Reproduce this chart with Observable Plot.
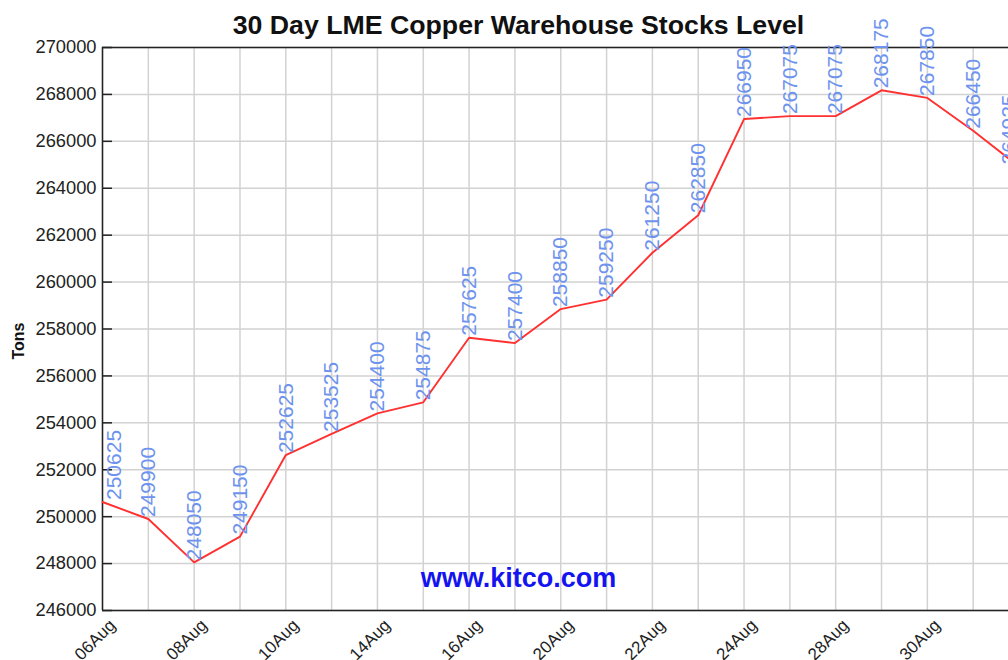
<!DOCTYPE html>
<html>
<head>
<meta charset="utf-8">
<script src="https://cdn.jsdelivr.net/npm/d3@7"></script>
<script src="https://cdn.jsdelivr.net/npm/@observablehq/plot@0.6"></script>
<style>
  html, body { margin: 0; padding: 0; background: #fff; overflow: hidden; }
  #chart svg { overflow: hidden; display: block; }
</style>
</head>
<body>
<div id="chart"></div>
<script>
const days = ["06Aug","07Aug","08Aug","09Aug","10Aug","13Aug","14Aug","15Aug","16Aug","17Aug","20Aug","21Aug","22Aug","23Aug","24Aug","27Aug","28Aug","29Aug","30Aug","31Aug","03Sep"];
const stocks = [250625,249900,248050,249150,252625,253525,254400,254875,257625,257400,258850,259250,261250,262850,266950,267075,267075,268175,267850,266450,264925];
const dayLabels = ["06Aug","08Aug","10Aug","14Aug","16Aug","20Aug","22Aug","24Aug","28Aug","30Aug"];
const yTicks = [246000,248000,250000,252000,254000,256000,258000,260000,262000,264000,266000,268000,270000];
const title = "30 Day LME Copper Warehouse Stocks Level";
const yLabel = "Tons";
const watermark = "www.kitco.com";

const data = days.map((d, i) => ({day: d, value: stocks[i], pos: i === 0 ? "first" : i === days.length - 1 ? "last" : "mid"}));
const font = "'Liberation Sans', Arial, sans-serif";

const W = 1008, H = 660, ML = 102, MT = 47, MB = 50;
const labelStyle = {x: "day", y: "value", text: d => String(d.value), rotate: -90,
  textAnchor: "start", lineAnchor: "middle", dy: -2, fill: "#6d93ee", fontSize: 21};

const chart = Plot.plot({
  width: W,
  height: H,
  marginLeft: ML,
  marginRight: 0,
  marginTop: MT,
  marginBottom: MB,
  style: {fontFamily: font, background: "#fff"},
  x: {type: "point", domain: days, range: [102, 1018.5], padding: 0, round: false, axis: null},
  y: {domain: [246000, 270000], axis: null},
  marks: [
    Plot.ruleX(days, {x: d => d, stroke: "#d2d2d2", strokeWidth: 1.5}),
    Plot.ruleY(yTicks, {y: d => d, stroke: "#d2d2d2", strokeWidth: 1.5}),
    Plot.tickY(yTicks, {y: d => d, stroke: "#222", strokeWidth: 1.5, insetRight: W - ML - 10}),
    Plot.ruleX([days[0]], {x: d => d, stroke: "#222", strokeWidth: 1.5}),
    Plot.ruleY([246000], {y: d => d, stroke: "#222", strokeWidth: 1.5}),
    Plot.ruleY([270000], {y: d => d, stroke: "#222", strokeWidth: 1.5}),
    Plot.line(data, {x: "day", y: "value", stroke: "#ff3030", strokeWidth: 1.9}),
    Plot.text(data, {...labelStyle, filter: d => d.pos === "mid", dx: 0}),
    Plot.text(data, {...labelStyle, filter: d => d.pos === "first", dx: 12}),
    Plot.text(data, {...labelStyle, filter: d => d.pos === "last", dx: -10}),
    Plot.text(yTicks, {y: d => d, text: d => String(d), frameAnchor: "left", textAnchor: "end",
      lineAnchor: "middle", dx: -6, fill: "#222", fontSize: 18.3}),
    Plot.text(dayLabels, {x: d => d, text: d => d, frameAnchor: "bottom", rotate: -45,
      textAnchor: "end", lineAnchor: "middle", dx: 10, dy: 12, fill: "#222", fontSize: 17}),
    Plot.text([yLabel], {text: d => d, frameAnchor: "left", rotate: -90, dx: -84, dy: 12,
      textAnchor: "middle", lineAnchor: "middle", fontWeight: "bold", fontSize: 16, fill: "#111"}),
    Plot.text([title], {text: d => d, frameAnchor: "top", dx: -37, dy: -22,
      textAnchor: "middle", lineAnchor: "middle", fontWeight: "bold", fontSize: 26.7, fill: "#111"}),
    Plot.text([watermark], {text: d => d, frameAnchor: "bottom", dx: -37, dy: -32,
      textAnchor: "middle", lineAnchor: "middle", fontWeight: "bold", fontSize: 27, fill: "#1414f0"})
  ]
});
document.getElementById("chart").appendChild(chart);
</script>
</body>
</html>
